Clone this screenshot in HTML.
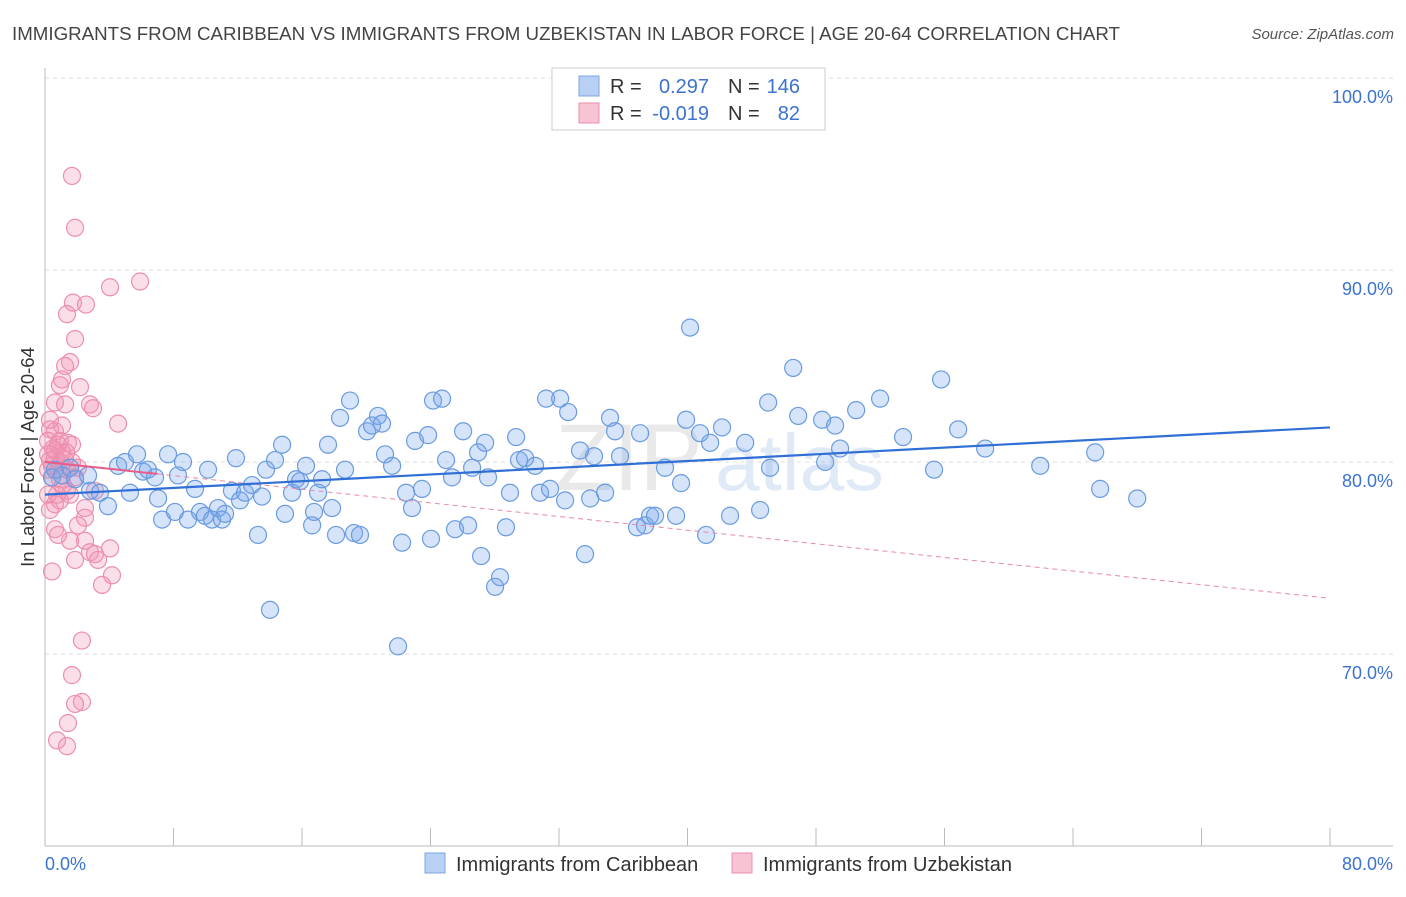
<!DOCTYPE html>
<html><head><meta charset="utf-8"><style>
body{margin:0;background:#fff;font-family:"Liberation Sans",sans-serif;}
svg text{font-family:"Liberation Sans",sans-serif;}
</style></head><body>
<svg id="chart" width="1406" height="892" xmlns="http://www.w3.org/2000/svg">
<text x="12" y="40" font-size="18" fill="#444" textLength="1108" lengthAdjust="spacingAndGlyphs">IMMIGRANTS FROM CARIBBEAN VS IMMIGRANTS FROM UZBEKISTAN IN LABOR FORCE | AGE 20-64 CORRELATION CHART</text>
<text x="1394" y="39" font-size="15" font-style="italic" fill="#555" text-anchor="end">Source: ZipAtlas.com</text>
<g opacity="0.18"><text x="555" y="490" font-size="95" font-family="Liberation Serif" fill="#888">ZIP</text><text x="715" y="490" font-size="80" fill="#5b8fd8">atlas</text></g>
<g id="grid"></g>
<g id="axes"></g>
<g id="marks"></g>
<text transform="translate(34,457) rotate(-90)" font-size="18.5" fill="#333" text-anchor="middle">In Labor Force | Age 20-64</text>
<g>
<rect x="552" y="68" width="273" height="62" fill="#fff" stroke="#ccc"/>
<rect x="579" y="76" width="20" height="20" fill="#b7d0f3" stroke="#7da4e4"/>
<rect x="579" y="103" width="20" height="20" fill="#f8c3d3" stroke="#ec8fae"/>
<text x="610" y="93" font-size="20" fill="#333">R =</text><text x="709" y="93" font-size="20" fill="#3b73d1" text-anchor="end">0.297</text>
<text x="728" y="93" font-size="20" fill="#333">N =</text><text x="800" y="93" font-size="20" fill="#3b73d1" text-anchor="end">146</text>
<text x="610" y="120" font-size="20" fill="#333">R =</text><text x="709" y="120" font-size="20" fill="#3b73d1" text-anchor="end">-0.019</text>
<text x="728" y="120" font-size="20" fill="#333">N =</text><text x="800" y="120" font-size="20" fill="#3b73d1" text-anchor="end">82</text>
</g>
<g><rect x="425" y="853" width="20" height="20" fill="#b7d0f3" stroke="#7da4e4"/><text x="456" y="871" font-size="20" fill="#333">Immigrants from Caribbean</text></g>
<g><rect x="732" y="853" width="20" height="20" fill="#f8c3d3" stroke="#ec8fae"/><text x="763" y="871" font-size="20" fill="#333">Immigrants from Uzbekistan</text></g>
</svg>
<script>
const yTicks=[100,90,80,70];
const yTickLabels=["100.0%","90.0%","80.0%","70.0%"];
const xTicks=[0,8,16,24,32,40,48,56,64,72,80];
const xTickLabels=["0.0%","80.0%"];
const blueX=[.44,.62,1.06,1.56,1.87,2.68,2.8,3.42,3.92,4.55,4.98,5.29,5.73,6.1,6.41,6.85,7.04,7.29,7.66,8.09,8.28,8.59,8.9,9.34,9.65,9.96,10.15,10.4,10.77,11.02,11.21,11.64,11.89,12.14,12.45,12.89,13.26,13.51,13.76,14.01,14.32,14.76,14.94,15.38,15.63,15.88,16.25,16.63,16.75,17.0,17.25,17.62,17.87,18.12,18.37,18.68,18.99,19.24,19.61,20.05,20.36,20.73,20.98,21.17,21.61,21.98,22.23,22.48,22.85,23.04,23.47,23.85,24.03,24.16,24.72,24.97,25.34,25.53,26.03,26.34,26.59,26.96,27.15,27.4,27.58,28.02,28.33,28.7,28.95,29.33,29.51,29.89,30.51,30.82,31.2,31.44,32.07,32.38,32.57,33.31,33.62,33.94,34.18,34.87,35.18,35.49,35.8,36.86,37.05,37.36,37.67,37.98,38.6,39.29,39.6,39.91,40.16,40.78,41.16,41.41,42.15,42.65,43.59,44.52,45.02,45.14,46.58,46.89,48.38,48.57,49.19,49.5,50.5,51.99,53.42,55.35,55.79,56.85,58.53,61.96,65.38,65.69,68.0];
const blueY=[79.2,79.6,79.3,79.7,79.1,79.3,78.5,78.4,77.7,79.8,80.0,78.4,80.4,79.5,79.6,79.2,78.1,77.0,80.4,77.4,79.3,80.0,77.0,78.6,77.4,77.2,79.6,77.0,77.6,77.0,77.3,78.5,80.2,78.0,78.4,78.8,76.2,78.2,79.6,72.3,80.1,80.9,77.3,78.4,79.1,79.0,79.8,76.7,77.4,78.4,79.1,80.9,77.6,76.2,82.3,79.6,83.2,76.3,76.2,81.6,81.9,82.4,82.0,80.4,79.8,70.4,75.8,78.4,77.6,81.1,78.6,81.4,76.0,83.2,83.3,80.1,79.2,76.5,81.6,76.7,79.7,80.5,75.1,81.0,79.2,73.5,74.0,76.6,78.4,81.3,80.1,80.2,79.8,78.4,83.3,78.6,83.3,78.0,82.6,80.6,75.2,78.1,80.3,78.4,82.3,81.6,80.3,76.6,81.5,76.7,77.2,77.2,79.7,77.2,78.9,82.2,87.0,81.5,76.2,81.0,81.8,77.2,81.0,77.5,83.1,79.7,84.9,82.4,82.2,80.0,81.9,80.7,82.7,83.3,81.3,79.6,84.3,81.7,80.7,79.8,80.5,78.6,78.1];
const pinkX=[1.68,1.87,4.05,5.92,1.74,2.55,1.37,1.87,1.56,1.25,1.06,.93,2.18,.62,1.25,2.8,2.99,4.55,.31,.62,.93,.19,.62,1.43,1.68,.31,.62,1.25,.19,.81,1.37,1.68,2.05,.93,1.37,3.11,.62,.93,.31,2.49,2.49,2.05,.62,1.56,2.49,.81,2.8,3.11,3.3,1.87,4.05,4.17,.44,3.55,2.3,1.68,2.3,1.87,1.43,.75,1.37,.19,.44,1.06,.81,1.31,.44,1.12,1.56,.19,.75,.31,1.06,.5,.93,1.87];
const pinkY=[94.9,92.2,89.1,89.4,88.3,88.2,87.7,86.4,85.2,85.0,84.3,84.0,83.9,83.1,83.0,83.0,82.8,82.0,81.7,81.6,81.1,81.1,80.6,81.0,80.9,80.1,80.2,80.1,79.6,79.6,79.6,80.0,79.7,79.1,78.5,78.5,77.8,78.0,77.5,77.6,77.1,76.7,76.5,75.9,75.9,76.2,75.3,75.2,74.9,74.9,75.5,74.1,74.3,73.6,70.7,68.9,67.5,67.4,66.4,65.5,65.2,80.4,79.8,80.5,80.9,80.5,79.2,78.8,78.3,78.3,78.3,82.2,81.9,80.7,80.0,79.2];
const blueTrend=[78.3,81.8];
const pinkTrend=[80.0,72.9];
const pinkSolidEnd=7;

const NS="http://www.w3.org/2000/svg";
const X0=45,X1=1330,Y0=78,Y1=846;
const sx=v=>X0+(v/80)*(X1-X0);
const sy=v=>Y0+(100-v)/40*(Y1-Y0);
function mk(tag,attrs,parent){const e=document.createElementNS(NS,tag);for(const k in attrs)e.setAttribute(k,attrs[k]);parent.appendChild(e);return e;}
const grid=document.getElementById('grid'),axes=document.getElementById('axes'),marks=document.getElementById('marks');
yTicks.forEach((t,i)=>{
  const l=mk('line',{x1:X0,x2:1393,y1:sy(t),y2:sy(t),stroke:'#ddd','stroke-dasharray':'4,4'},grid);
  
  
  const tx=mk('text',{x:1393,y:sy(t)+25,'font-size':18,fill:'#3b73d1','text-anchor':'end'},axes);
  tx.textContent=yTickLabels[i];
  
  
});
const ax=mk('line',{x1:X0,x2:X0,y1:68,y2:Y1,stroke:'#bbb'},axes);


const bx=mk('line',{x1:X0,x2:1393,y1:Y1,y2:Y1,stroke:'#bbb'},axes);


xTicks.forEach(t=>{const l=mk('line',{x1:sx(t),x2:sx(t),y1:Y1,y2:Y1-18,stroke:'#bbb'},axes);
  
  });
const xl0=mk('text',{x:45,y:870,'font-size':18,fill:'#3b73d1'},axes);xl0.textContent=xTickLabels[0];


const xl1=mk('text',{x:1393,y:870,'font-size':18,fill:'#3b73d1','text-anchor':'end'},axes);xl1.textContent=xTickLabels[1];



pinkX.forEach((x,i)=>{const c=mk('circle',{cx:sx(x),cy:sy(pinkY[i]),r:8.5,fill:'rgba(243,150,180,0.3)',stroke:'#ec8fae','stroke-width':1.2},marks);
  
  });
blueX.forEach((x,i)=>{const c=mk('circle',{cx:sx(x),cy:sy(blueY[i]),r:8.5,fill:'rgba(120,165,235,0.3)',stroke:'#6a9be0','stroke-width':1.2},marks);
  
  });
const pAt=x=>pinkTrend[0]+(pinkTrend[1]-pinkTrend[0])*x/80;
const pl=mk('line',{x1:sx(0),y1:sy(pinkTrend[0]),x2:sx(pinkSolidEnd),y2:sy(pAt(pinkSolidEnd)),stroke:'#e85c8a','stroke-width':2},marks);


const pd=mk('line',{x1:sx(pinkSolidEnd),y1:sy(pAt(pinkSolidEnd)),x2:sx(80),y2:sy(pinkTrend[1]),stroke:'#e88aa8','stroke-width':1,'stroke-dasharray':'5,4'},marks);


const bl=mk('line',{x1:sx(0),y1:sy(blueTrend[0]),x2:sx(80),y2:sy(blueTrend[1]),stroke:'#2f6fd6','stroke-width':2.2},marks);


</script>
</body></html>
